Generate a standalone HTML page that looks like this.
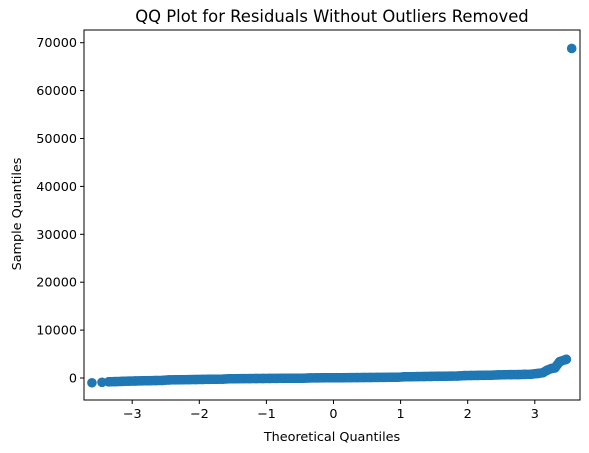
<!DOCTYPE html>
<html><head><meta charset="utf-8"><style>
body{margin:0;background:#fff;}
svg{display:block;font-family:"DejaVu Sans","Liberation Sans",sans-serif;}
</style></head><body>
<svg id="c" width="589" height="453">
<rect width="589" height="453" fill="#fff"/>
<text x="332" y="22" text-anchor="middle" font-size="16.4" fill="#000">QQ Plot for Residuals Without Outliers Removed</text>
<text x="332" y="441" text-anchor="middle" font-size="12.8">Theoretical Quantiles</text>
<text transform="translate(21,214) rotate(-90)" text-anchor="middle" font-size="12.8">Sample Quantiles</text>
<g id="marks"></g><g id="axes"></g>
</svg>
<script>
const xs = [-3.6,-3.45,-3.35,-3.25,-3.15,-3.05,-2.95,-2.85,-2.75,-2.65,-2.55,-2.45,-2.35,-2.25,-2.15,-2.05,-1.95,-1.85,-1.75,-1.65,-1.55,-1.45,-1.35,-1.25,-1.15,-1.05,-0.95,-0.85,-0.75,-0.65,-0.55,-0.45,-0.35,-0.25,-0.15,-0.05,0.05,0.15,0.25,0.35,0.45,0.55,0.65,0.75,0.85,0.95,1.05,1.15,1.25,1.35,1.45,1.55,1.65,1.75,1.85,1.95,2.05,2.15,2.25,2.35,2.45,2.55,2.65,2.75,2.85,2.95,3.05,3.12,3.18,3.25,3.3,3.37,3.47,3.55];
const ys = [-1000,-900,-800,-750,-700,-650,-620,-590,-560,-530,-500,-400,-380,-360,-340,-320,-300,-280,-260,-240,-150,-140,-130,-120,-110,-100,-90,-80,-70,-60,-50,-40,20,30,40,50,60,70,80,90,100,110,120,130,140,150,250,270,290,310,330,350,370,390,410,500,520,540,560,580,650,680,700,720,760,800,950,1100,1600,2000,2100,3400,3900,68800];
const xTicks = [-3,-2,-1,0,1,2,3];
const yTicks = [0,10000,20000,30000,40000,50000,60000,70000];
const L=84,R=580,T=30,B=400;
const sx=v=>333.5+v*67.1;
const sy=v=>378-v*0.00479;
const NS='http://www.w3.org/2000/svg';
const marks=document.getElementById('marks'),axes=document.getElementById('axes');
function mk(tag,at,parent){const e=document.createElementNS(NS,tag);for(const k in at)e.setAttribute(k,at[k]);parent.appendChild(e);return e;}
// continuous band through the dense sample points (excluding the lone outlier)
let d='';
for(let i=2;i<xs.length-1;i++){d+=(i===2?'M':'L')+sx(xs[i]).toFixed(1)+','+sy(ys[i]).toFixed(1);}
const band=mk('path',{d:d,fill:'none',stroke:'#1f77b4','stroke-width':9.5,'stroke-linejoin':'round','stroke-linecap':'round'},marks);


for(let i=0;i<xs.length;i++){
  const c=mk('circle',{cx:sx(xs[i]),cy:sy(ys[i]),r:4.8,fill:'#1f77b4'},marks);
  
  
}
const f=mk('rect',{x:L,y:T,width:R-L,height:B-T,fill:'none',stroke:'#000','stroke-width':1},axes);


xTicks.forEach(t=>{
  const x=sx(t);
  mk('line',{x1:x,x2:x,y1:B,y2:B+4,stroke:'#000'},axes);
  const tx=mk('text',{x:x,y:B+18,'text-anchor':'middle','font-size':12.8},axes);
  tx.textContent=t<0?'\u2212'+(-t):String(t);
  
  
});
yTicks.forEach(t=>{
  const y=sy(t);
  mk('line',{x1:L-4,x2:L,y1:y,y2:y,stroke:'#000'},axes);
  const tx=mk('text',{x:L-7,y:y+4.5,'text-anchor':'end','font-size':12.8},axes);
  tx.textContent=String(t);
  
  
});
</script>
</body></html>
